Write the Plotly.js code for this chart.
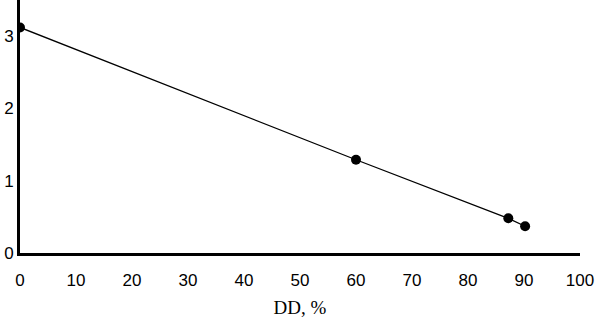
<!DOCTYPE html>
<html>
<head>
<meta charset="utf-8">
<script src="https://cdn.plot.ly/plotly-3.0.1.min.js"></script>
<style>html,body{margin:0;padding:0;background:#fff;}#chart{width:597px;height:318px;}</style>
</head>
<body>
<div id="chart"></div>
<script>
const ddPercent = [0, 60, 87.2, 90.2];
const yValues = [3.12, 1.29, 0.48, 0.37];
const xTicks = [0, 10, 20, 30, 40, 50, 60, 70, 80, 90, 100];
const yTicks = [0, 1, 2, 3];
const xTitle = 'DD, %';

const traces = [{
  x: ddPercent,
  y: yValues,
  mode: 'lines+markers',
  line: {color: '#000', width: 1.3},
  marker: {color: '#000', size: 10},
  showlegend: false,
  hoverinfo: 'skip'
}];

const layout = {
  width: 597, height: 318,
  margin: {l: 20, r: 17, t: 0, b: 65, pad: 0},
  paper_bgcolor: '#fff', plot_bgcolor: '#fff',
  font: {family: '"Liberation Sans", Arial, sans-serif', size: 17, color: '#000'},
  xaxis: {
    range: [0, 100], tickvals: xTicks, ticktext: xTicks.map(String),
    showgrid: false, zeroline: false, showline: true, linecolor: '#000', linewidth: 3,
    ticks: '', ticklabelstandoff: 10,
    title: {text: xTitle, font: {family: '"Liberation Serif", "Times New Roman", serif', size: 19}, standoff: 12},
    automargin: false, fixedrange: true
  },
  yaxis: {
    range: [0, 3.5], tickvals: yTicks, ticktext: yTicks.map(String),
    showgrid: false, zeroline: false, showline: true, linecolor: '#000', linewidth: 3,
    ticks: '', ticklabelstandoff: 0,
    automargin: false, fixedrange: true
  }
};

Plotly.newPlot('chart', traces, layout, {displayModeBar: false, staticPlot: true});
</script>
</body>
</html>
